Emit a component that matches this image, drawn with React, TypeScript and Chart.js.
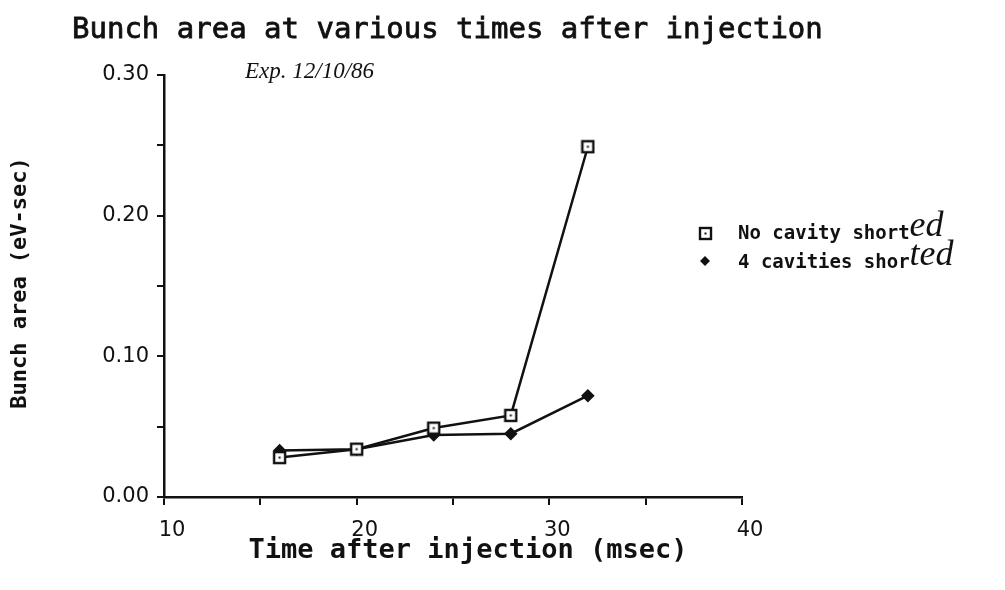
import React, { useEffect, useRef } from "react";
import { Chart, registerables } from "chart.js";

Chart.register(...registerables);

const times = [16, 20, 24, 28, 32];
const noCavityShorted = [0.028, 0.034, 0.049, 0.058, 0.249];
const fourCavitiesShorted = [0.033, 0.034, 0.044, 0.045, 0.072];
const xTicks = [10, 20, 30, 40];
const yTicks = [0.0, 0.1, 0.2, 0.3];

const titleText = "Bunch area at various times after injection";
const noteText = "Exp. 12/10/86";
const xTitle = "Time after injection (msec)";
const yTitle = "Bunch area (eV-sec)";
const legendLabels = [["No cavity short", "ed"], ["4 cavities shor", "ted"]];

function makeSquare(): HTMLCanvasElement {
  const c = document.createElement("canvas");
  c.width = 15;
  c.height = 15;
  const g = c.getContext("2d")!;
  g.fillStyle = "#fff";
  g.fillRect(1, 1, 13, 13);
  g.strokeStyle = "#111";
  g.lineWidth = 2.4;
  g.strokeRect(2, 2, 11, 11);
  g.fillStyle = "#111";
  g.fillRect(6.5, 6.5, 2, 2);
  return c;
}

const textPlugin = {
  id: "texts",
  afterDraw(chart: any) {
    const ctx = chart.ctx;
    const area = chart.chartArea;
    ctx.save();
    ctx.fillStyle = "#111";
    ctx.strokeStyle = "#111";
    ctx.textBaseline = "middle";
    ctx.textAlign = "left";
    ctx.font = "29px 'DejaVu Sans Mono'";
    ctx.lineWidth = 0.8;
    ctx.fillText(titleText, 72, 30);
    ctx.strokeText(titleText, 72, 30);
    ctx.font = "italic 23px 'Liberation Serif'";
    ctx.fillText(noteText, 245, 72);
    // x title
    ctx.textAlign = "center";
    ctx.font = "bold 27px 'DejaVu Sans Mono'";
    ctx.fillText(xTitle, (area.left + area.right) / 2 + 15, 551);
    // y title
    ctx.save();
    ctx.translate(20, 283);
    ctx.rotate(-Math.PI / 2);
    ctx.font = "bold 22px 'DejaVu Sans Mono'";
    ctx.fillText(yTitle, 0, 0);
    ctx.restore();
    // legend
    const sq = chart.data.datasets[0].pointStyle;
    ctx.drawImage(sq, 698, 226);
    ctx.beginPath();
    ctx.moveTo(705, 256);
    ctx.lineTo(710, 261);
    ctx.lineTo(705, 266);
    ctx.lineTo(700, 261);
    ctx.closePath();
    ctx.fill();
    ctx.textAlign = "left";
    const ys = [234, 263];
    legendLabels.forEach((lab, i) => {
      ctx.font = "bold 19px 'DejaVu Sans Mono'";
      ctx.fillText(lab[0], 738, ys[i]);
      const w = ctx.measureText(lab[0]).width;
      ctx.font = "italic 36px 'Liberation Serif'";
      ctx.fillText(lab[1], 738 + w, ys[i] - 7);
    });
    ctx.restore();
  },
};

export default function App() {
  const ref = useRef<HTMLCanvasElement>(null);
  useEffect(() => {
    document.body.style.margin = "0";
    const square = makeSquare();
    const chart = new Chart(ref.current!, {
      type: "line",
      data: {
        labels: times,
        datasets: [
          {
            label: "No cavity shorted",
            data: times.map((t, i) => ({ x: t, y: noCavityShorted[i] })),
            borderColor: "#111",
            borderWidth: 2.5,
            pointStyle: square as any,
            pointRadius: 7,
            fill: false,
            tension: 0,
            order: 1,
          },
          {
            label: "4 cavities shorted",
            data: times.map((t, i) => ({ x: t, y: fourCavitiesShorted[i] })),
            borderColor: "#111",
            backgroundColor: "#111",
            borderWidth: 2.5,
            pointStyle: "rectRot",
            pointRadius: 5,
            pointBackgroundColor: "#111",
            pointBorderColor: "#111",
            fill: false,
            tension: 0,
            order: 2,
          },
        ],
      },
      options: {
        animation: false,
        responsive: false,
        devicePixelRatio: 1,
        layout: { padding: { left: 0, top: 75, right: 263, bottom: 0 } },
        plugins: { legend: { display: false }, title: { display: false }, tooltip: { enabled: false } },
        scales: {
          x: {
            type: "linear",
            min: 10,
            max: 40,
            afterFit: (s: any) => { s.height = 93; },
            afterBuildTicks: (s: any) => {
              s.ticks = [10, 15, 20, 25, 30, 35, 40].map((v) => ({ value: v }));
            },
            ticks: {
              color: "#111",
              font: { family: "'DejaVu Sans'", size: 21 },
              padding: 13,
              labelOffset: 8,
              maxRotation: 0,
              autoSkip: false,
              callback: (v: any) => (xTicks.includes(Number(v)) ? String(v) : ""),
            },
            grid: { drawOnChartArea: false, tickLength: 8, color: "#111", lineWidth: 2 },
            border: { color: "#111", width: 2.5 },
          },
          y: {
            type: "linear",
            min: 0,
            max: 0.3,
            afterFit: (s: any) => { s.width = 164; },
            afterBuildTicks: (s: any) => {
              s.ticks = [0, 0.05, 0.1, 0.15, 0.2, 0.25, 0.3].map((v) => ({ value: v }));
            },
            ticks: {
              color: "#111",
              font: { family: "'DejaVu Sans'", size: 21 },
              padding: 8,
              autoSkip: false,
              callback: (v: any) => {
                const n = Number(v);
                return yTicks.some((t) => Math.abs(t - n) < 1e-6) ? n.toFixed(2) : "";
              },
            },
            grid: { drawOnChartArea: false, tickLength: 7, color: "#111", lineWidth: 2 },
            border: { color: "#111", width: 2.5 },
          },
        },
      },
      plugins: [textPlugin],
    });
    return () => chart.destroy();
  }, []);
  return (
    <div style={{ position: "absolute", left: 0, top: 0, width: 1005, height: 590, background: "#fff" }}>
      <canvas ref={ref} width={1005} height={590} />
    </div>
  );
}
